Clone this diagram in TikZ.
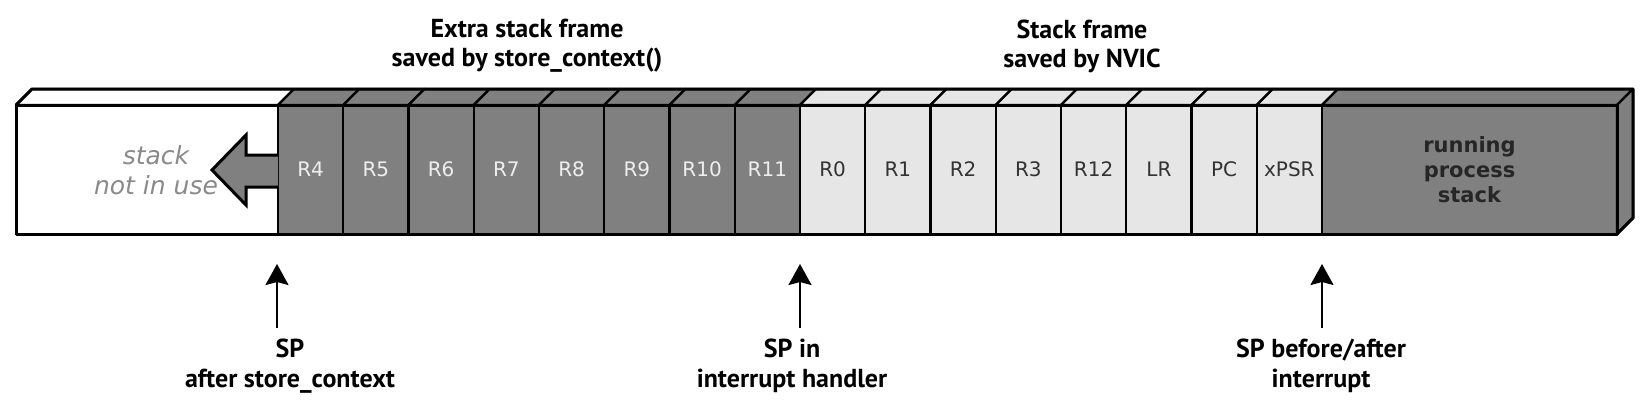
\documentclass[tikz,border=0pt]{standalone}
\usepackage{fontspec}
\setmainfont{DejaVu Sans}
\newfontfamily\lblfont{PT Sans}
\usetikzlibrary{arrows.meta}
\definecolor{darkg}{HTML}{808080}
\definecolor{lightg}{HTML}{E6E6E6}
\definecolor{celltxt}{HTML}{EEEEEE}
\definecolor{hinttxt}{HTML}{8A8A8A}
\begin{document}
\begin{tikzpicture}[x=1pt,y=-1pt,
  cell/.style={draw=black, line width=2.4pt, minimum height=129pt, inner sep=0pt, outer sep=0pt},
  regcell/.style={cell, minimum width=65.25pt, font=\fontsize{20}{24}\selectfont},
  darkcell/.style={regcell, fill=darkg, text=celltxt},
  lightcell/.style={regcell, fill=lightg, text=black!80},
  topface/.style={draw=black, line width=2.4pt, line join=round},
  titletext/.style={font=\lblfont\bfseries\fontsize{26}{29}\selectfont, align=center, inner sep=0pt},
  sptext/.style={font=\lblfont\bfseries\fontsize{26}{30}\selectfont, align=center, inner sep=0pt},
  sparrow/.style={line width=2.4pt, -{Stealth[length=21pt,width=23pt,inset=3pt]}},
  blockarrow/.style={draw=black, line width=3pt, fill=darkg, line join=miter}
]
\useasboundingbox (0,0) rectangle (1650,405);

% free (unused) part of the stack
\node[cell, fill=white, minimum width=262pt] (free) at (147,169.5) {};
\draw[topface, fill=white] (free.north west) -- ++(16,-16) -- ++(262,0) -- (free.north east) -- cycle;
\node[font=\itshape\fontsize{25}{30}\selectfont, text=hinttxt, align=center] (hint) at (156,170) {stack\\not in use};

% extra stack frame (store_context)
\foreach \lab [count=\i from 0] in {R4,R5,R6,R7,R8,R9,R10,R11} {
  \node[darkcell] (d\i) at ({278+65.25*(\i+0.5)},169.5) {\lab};
  \draw[topface, fill=darkg] (d\i.north west) -- ++(16,-16) -- ++(65.25,0) -- (d\i.north east) -- cycle;
}

% stack frame saved by NVIC
\foreach \lab [count=\i from 0] in {R0,R1,R2,R3,R12,LR,PC,xPSR} {
  \node[lightcell] (l\i) at ({800+65.25*(\i+0.5)},169.5) {\lab};
  \draw[topface, fill=lightg] (l\i.north west) -- ++(16,-16) -- ++(65.25,0) -- (l\i.north east) -- cycle;
}

% running process stack
\node[cell, fill=darkg, minimum width=295pt, align=center, text=black!85,
      font=\bfseries\fontsize{21}{25}\selectfont] (stk) at (1469.5,169.5) {running\\process\\stack};
\draw[topface, fill=darkg] (stk.north west) -- ++(16,-16) -- ++(295,0) -- (stk.north east) -- cycle;
\draw[topface, fill=darkg] (stk.north east) -- ++(16,-16) -- ++(0,129) -- (stk.south east) -- cycle;

% outer outline
\draw[line width=3pt, line join=round] (free.north west) rectangle (stk.south east);
\draw[line width=3pt, line join=round] (free.north west) -- ++(16,-16) -| ([xshift=16pt,yshift=16pt]stk.south east) -- (stk.south east);

% block arrow showing growth direction
\coordinate (bt) at (212,170);
\draw[blockarrow] (d0.west |- 0,155) -- (246,155) -- (246,135) -- (bt) -- (246,205) -- (246,187) -- (d0.west |- 0,187);

% titles
\node[titletext] (t1) at (527,46) {Extra stack frame\\saved by store\_context()};
\node[titletext] (t2) at (1082,46) {Stack frame\\saved by NVIC};

% stack pointer labels and arrows
\node[sptext] (s1) at (290,366) {SP\\after store\_context};
\node[sptext] (s2) at (792,366) {SP in\\interrupt handler};
\node[sptext] (s3) at (1321,366) {SP before/after\\interrupt};
\coordinate (p1) at (277,264);
\coordinate (p2) at (800,264);
\coordinate (p3) at (1322,264);
\coordinate (q1) at (277,328);
\coordinate (q2) at (800,328);
\coordinate (q3) at (1322,328);
\draw[sparrow] (q1) -- (p1);
\draw[sparrow] (q2) -- (p2);
\draw[sparrow] (q3) -- (p3);
\end{tikzpicture}
\end{document}
